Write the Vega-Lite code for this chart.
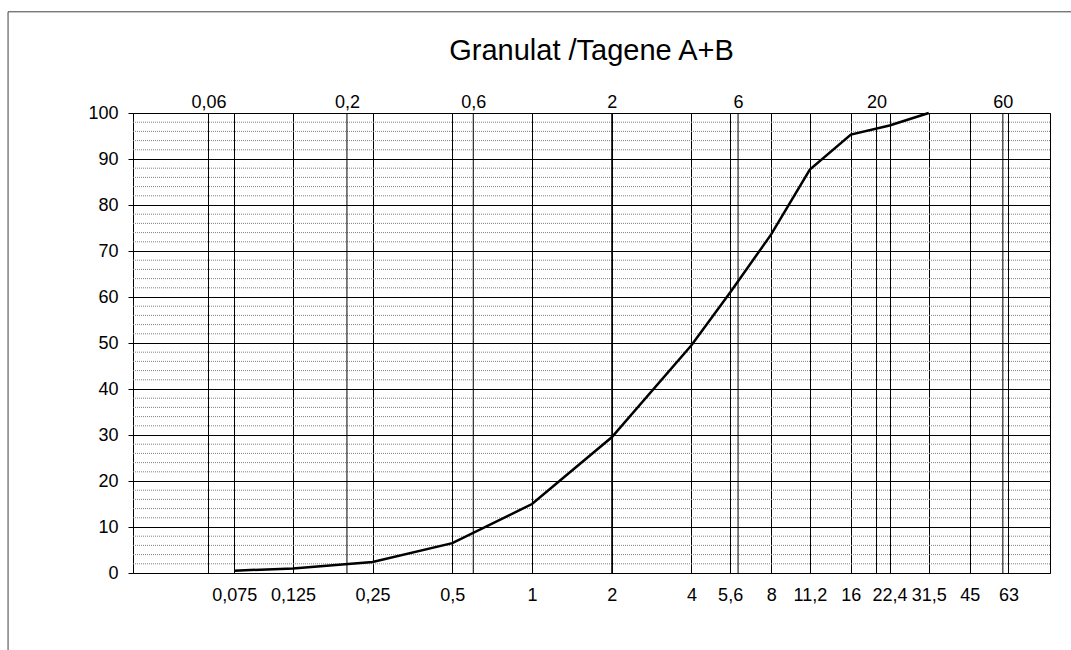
{
  "$schema": "https://vega.github.io/schema/vega-lite/v6.json",
  "width": 917,
  "height": 460,
  "autosize": "none",
  "padding": {"left": 133, "top": 113, "right": 21, "bottom": 77},
  "background": "white",
  "config": {
    "font": "Liberation Sans",
    "view": {"stroke": "black", "strokeWidth": 1},
    "axis": {"labelFont": "Liberation Sans", "labelColor": "black", "labelFontSize": 18}
  },
  "title": {
    "text": "Granulat /Tagene A+B",
    "font": "Liberation Sans",
    "fontSize": 29,
    "fontWeight": "normal",
    "color": "black",
    "anchor": "middle",
    "baseline": "alphabetic",
    "offset": 0,
    "dy": 78
  },
  "datasets": {
    "curve": [
      {"size": 0.075, "passing": 0.5},
      {"size": 0.125, "passing": 1.0},
      {"size": 0.25, "passing": 2.4},
      {"size": 0.5, "passing": 6.5},
      {"size": 1, "passing": 15.0},
      {"size": 2, "passing": 29.5},
      {"size": 4, "passing": 49.5},
      {"size": 5.6, "passing": 61.0},
      {"size": 8, "passing": 73.6},
      {"size": 11.2, "passing": 87.7},
      {"size": 16, "passing": 95.3},
      {"size": 22.4, "passing": 97.3},
      {"size": 31.5, "passing": 100}
    ],
    "topSizes": [
      {"size": 0.06}, {"size": 0.2}, {"size": 0.6}, {"size": 2}, {"size": 6}, {"size": 20}, {"size": 60}
    ],
    "minor": [
      {"level": 2}, {"level": 4}, {"level": 6}, {"level": 8},
      {"level": 12}, {"level": 14}, {"level": 16}, {"level": 18},
      {"level": 22}, {"level": 24}, {"level": 26}, {"level": 28},
      {"level": 32}, {"level": 34}, {"level": 36}, {"level": 38},
      {"level": 42}, {"level": 44}, {"level": 46}, {"level": 48},
      {"level": 52}, {"level": 54}, {"level": 56}, {"level": 58},
      {"level": 62}, {"level": 64}, {"level": 66}, {"level": 68},
      {"level": 72}, {"level": 74}, {"level": 76}, {"level": 78},
      {"level": 82}, {"level": 84}, {"level": 86}, {"level": 88},
      {"level": 92}, {"level": 94}, {"level": 96}, {"level": 98}
    ],
    "frame": [{"x0": 0.0105, "x1": 1000, "y0": -50, "y1": 122}]
  },
  "layer": [
    {
      "data": {"name": "frame"},
      "mark": {"type": "rect", "fill": null, "stroke": "#404040", "strokeWidth": 1, "clip": false},
      "encoding": {
        "x": {"field": "x0", "type": "quantitative", "scale": {"type": "log", "domain": [0.03112, 90.41], "nice": false}, "axis": null},
        "x2": {"field": "x1"},
        "y": {"field": "y0", "type": "quantitative", "scale": {"domain": [0, 100], "nice": false}, "axis": null},
        "y2": {"field": "y1"}
      }
    },
    {
      "data": {"name": "minor"},
      "mark": {"type": "rule", "stroke": "#808080", "strokeWidth": 1, "strokeDash": [1, 1]},
      "encoding": {
        "y": {"field": "level", "type": "quantitative", "scale": {"domain": [0, 100], "nice": false}, "axis": null}
      }
    },
    {
      "data": {"name": "topSizes"},
      "mark": {"type": "rule", "stroke": "black", "strokeWidth": 1},
      "encoding": {
        "x": {
          "field": "size", "type": "quantitative",
          "scale": {"type": "log", "domain": [0.03112, 90.41], "nice": false},
          "axis": {
            "orient": "top", "values": [0.06, 0.2, 0.6, 2, 6, 20, 60],
            "labelExpr": "replace(toString(datum.value), '.', ',')",
            "ticks": false, "domain": false, "grid": false, "labelPadding": 2,
            "labelFlush": false, "labelOverlap": false, "title": null
          }
        }
      }
    },
    {
      "data": {"name": "curve"},
      "mark": {"type": "line", "color": "black", "strokeWidth": 2.5},
      "encoding": {
        "x": {
          "field": "size", "type": "quantitative",
          "scale": {"type": "log", "domain": [0.03112, 90.41], "nice": false},
          "axis": {
            "orient": "bottom",
            "values": [0.075, 0.125, 0.25, 0.5, 1, 2, 4, 5.6, 8, 11.2, 16, 22.4, 31.5, 45, 63],
            "labelExpr": "replace(toString(datum.value), '.', ',')",
            "ticks": false, "domain": false, "grid": true, "gridColor": "black", "gridWidth": 1, "gridOpacity": 1,
            "labelPadding": 13, "labelFlush": false, "labelOverlap": false, "title": null
          }
        },
        "y": {
          "field": "passing", "type": "quantitative",
          "scale": {"domain": [0, 100], "nice": false},
          "axis": {
            "orient": "left",
            "values": [0, 10, 20, 30, 40, 50, 60, 70, 80, 90, 100],
            "grid": true, "gridColor": "black", "gridWidth": 1, "gridOpacity": 1,
            "ticks": true, "tickSize": 5, "tickColor": "black", "domain": true, "domainColor": "black",
            "labelPadding": 10, "labelFlush": false, "labelOverlap": false, "title": null
          }
        }
      }
    }
  ],
  "resolve": {"axis": {"x": "independent", "y": "independent"}}
}
